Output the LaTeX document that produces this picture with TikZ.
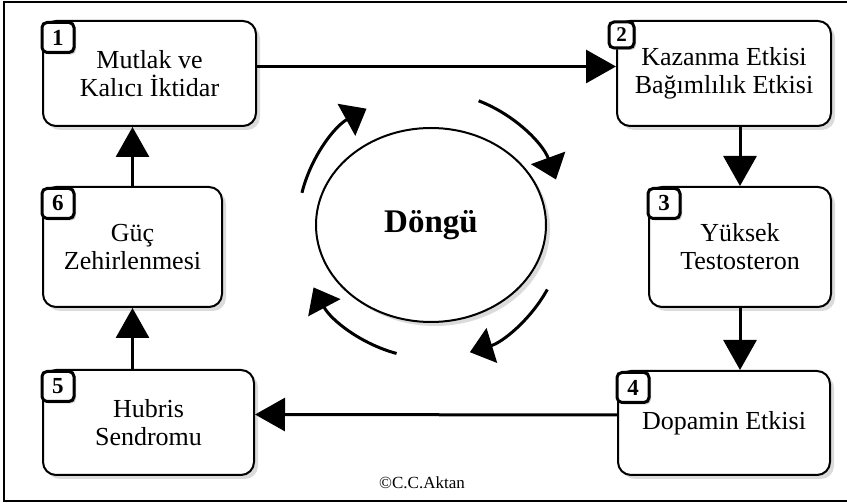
\documentclass[tikz,border=0pt]{standalone}
\usepackage{fontspec}
\setmainfont{Liberation Serif}
\usetikzlibrary{arrows.meta}
\usetikzlibrary{shapes.geometric}
\usetikzlibrary{shadows}

\begin{document}
\begin{tikzpicture}[x=1pt,y=1pt,
  box/.style={draw,line width=2pt,rounded corners=13pt,fill=white,align=center,
    inner sep=0pt,font=\fontsize{26}{28}\selectfont,
    drop shadow={shadow xshift=4pt,shadow yshift=-4pt,fill=black!28}},
  num/.style={draw,line width=3pt,rounded corners=5pt,fill=white,inner sep=0pt,
    minimum width=32pt,minimum height=30pt,anchor=north west,
    font=\fontsize{23}{23}\selectfont\bfseries,
    drop shadow={shadow xshift=2pt,shadow yshift=-2pt,fill=black!45}},
  link/.style={line width=3pt,-{Triangle[length=30pt,width=33pt]}},
  turn/.style={line width=3pt,-{Triangle[length=23pt,width=36pt]}}]
  \clip (0,0) rectangle (847,503);
  \draw[line width=2.5pt] (4,2) rectangle (852,501);

  \node (mk) at (149.5,429.5) [box,minimum width=213pt,minimum height=105pt] {Mutlak ve\\Kalıcı İktidar};
  \node (ke) at (724,429.5) [box,minimum width=214pt,minimum height=105pt] {Kazanma Etkisi\\Bağımlılık Etkisi};
  \node (yt) at (740,256) [box,minimum width=182pt,minimum height=120pt] {Yüksek\\Testosteron};
  \node (de) at (724,80) [box,minimum width=212pt,minimum height=104pt] {Dopamin Etkisi};
  \node (hs) at (148.5,80.5) [box,minimum width=211pt,minimum height=105pt] {Hubris\\Sendromu};
  \node (gz) at (132.5,256) [box,minimum width=179pt,minimum height=120pt] {Güç\\Zehirlenmesi};

  \node (n1) at ([shift={(-1.5pt,-1pt)}]mk.north west) [num] {1};
  \node (n2) at ([shift={(-8.5pt,-0.5pt)}]ke.north west) [num,minimum width=25pt,minimum height=26pt,font=\fontsize{21}{21}\selectfont\bfseries] {2};
  \node (n3) at ([shift={(-1.5pt,-1pt)}]yt.north west) [num] {3};
  \node (n4) at ([shift={(-1.5pt,-1pt)}]de.north west) [num] {4};
  \node (n5) at ([shift={(-1.5pt,-1pt)}]hs.north west) [num] {5};
  \node (n6) at ([shift={(-1.5pt,-1pt)}]gz.north west) [num] {6};

  \draw[link] ([yshift=7pt]mk.east) -- ([yshift=7pt]ke.west);
  \draw[link] (yt.north |- ke.south) -- (yt.north);
  \draw[link] (yt.south) -- (yt.south |- de.north);
  \draw[link] ([yshift=8pt]de.west) -- ([yshift=8pt]hs.east);
  \draw[link] (gz.south |- hs.north) -- (gz.south);
  \draw[link] (gz.north) -- (gz.north |- mk.south);

  \node (loop) at (431,278) [ellipse,draw,line width=2pt,minimum width=230pt,minimum height=194pt,
    inner sep=0pt,fill=white,drop shadow={shadow xshift=4pt,shadow yshift=-4pt,fill=black!28},
    font=\fontsize{33}{33}\selectfont\bfseries] {Döngü};

  \draw[turn] ([shift={(166:133pt)}]loop.center) arc[start angle=166,end angle=119,radius=133pt];
  \draw[turn] ([shift={(69:133pt)}]loop.center) arc[start angle=69,end angle=20,radius=133pt];
  \draw[turn] ([shift={(-29:133pt)}]loop.center) arc[start angle=-29,end angle=-73,radius=133pt];
  \draw[turn] ([shift={(-105:133pt)}]loop.center) arc[start angle=-105,end angle=-152,radius=133pt];

  \node (cr) at (422,20) [font=\fontsize{17}{17}\selectfont] {©C.C.Aktan};
\end{tikzpicture}
\end{document}
